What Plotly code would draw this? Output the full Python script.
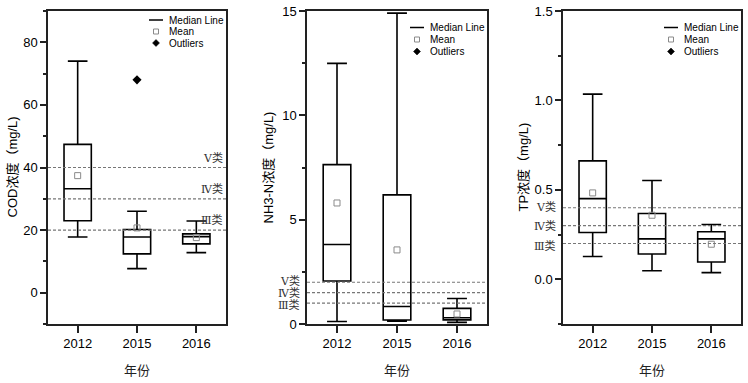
import plotly.graph_objects as go

W, H = 748, 383

years = ["2012", "2015", "2016"]

# COD (mg/L)
cod_low = [17.8, 7.7, 12.8]
cod_q1 = [23.0, 12.4, 15.6]
cod_med = [33.2, 17.8, 17.9]
cod_q3 = [47.4, 20.2, 18.8]
cod_high = [74.0, 26.0, 22.9]
cod_mean = [37.4, 20.7, 17.6]
cod_out_x = ["2015"]
cod_out_y = [68.0]
cod_limits = [40, 30, 20]

# NH3-N (mg/L)
nh_low = [0.12, 0.14, 0.08]
nh_q1 = [2.06, 0.19, 0.2]
nh_med = [3.81, 0.84, 0.3]
nh_q3 = [7.64, 6.19, 0.75]
nh_high = [12.49, 14.9, 1.22]
nh_mean = [5.8, 3.55, 0.48]
nh_limits = [2.0, 1.5, 1.0]

# TP (mg/L)
tp_low = [0.127, 0.048, 0.037]
tp_q1 = [0.262, 0.141, 0.097]
tp_med = [0.451, 0.226, 0.226]
tp_q3 = [0.662, 0.368, 0.266]
tp_high = [1.035, 0.552, 0.306]
tp_mean = [0.483, 0.358, 0.196]
tp_limits = [0.4, 0.3, 0.2]

limit_labels = ["Ⅴ类", "Ⅳ类", "Ⅲ类"]
legend_labels = ["Median Line", "Mean", "Outliers"]
y_titles = ["COD浓度（mg/L)", "NH3-N浓度（mg/L)", "TP浓度（mg/L)"]
x_title = "年份"

SANS = "Liberation Sans, Arial, Noto Sans CJK SC"
SERIF = "DejaVu Serif, Liberation Serif, Noto Sans CJK SC"
AX = "#222222"

def px(x):
    return x / W

def py(y):
    return 1 - y / H

# panel pixel geometry: left, right, top, bottom
panels = [(48, 226, 11, 324), (307, 487, 11, 324), (563, 741, 11, 324)]

fig = go.Figure()

data = [
    (cod_low, cod_q1, cod_med, cod_q3, cod_high, cod_mean),
    (nh_low, nh_q1, nh_med, nh_q3, nh_high, nh_mean),
    (tp_low, tp_q1, tp_med, tp_q3, tp_high, tp_mean),
]
yranges = [[-10, 90], [0, 15], [-0.25, 1.5]]
dticks = [20, 5, 0.5]
minors = [10, 2.5, 0.25]
tfmt = ["d", "d", ".1f"]
limits = [cod_limits, nh_limits, tp_limits]

for i, (lo, q1, md, q3, hi, mn) in enumerate(data):
    xa = "x" if i == 0 else f"x{i+1}"
    ya = "y" if i == 0 else f"y{i+1}"
    fig.add_trace(go.Box(
        x=years, q1=q1, median=md, q3=q3, lowerfence=lo, upperfence=hi,
        width=0.46, whiskerwidth=0.72, fillcolor="rgba(255,255,255,0)",
        line=dict(color="black", width=1.6), boxpoints=False,
        xaxis=xa, yaxis=ya, showlegend=False, hoverinfo="skip"))
    fig.add_trace(go.Scatter(
        x=years, y=mn, mode="markers", xaxis=xa, yaxis=ya, showlegend=False,
        marker=dict(symbol="square-open", size=6, color="#8a8a8a", line=dict(width=1))))
    if i == 0:
        fig.add_trace(go.Scatter(
            x=cod_out_x, y=cod_out_y, mode="markers", xaxis=xa, yaxis=ya, showlegend=False,
            marker=dict(symbol="diamond", size=7, color="black")))

    l, r, t, b = panels[i]
    sfx = "" if i == 0 else str(i + 1)
    fig.layout["xaxis" + sfx] = dict(
        domain=[px(l), px(r)], anchor=ya, type="category", range=[-0.5, 2.5],
        showline=True, mirror=True, linecolor=AX, linewidth=1.5,
        ticks="outside", ticklen=7, tickwidth=1.5, tickcolor=AX,
        tickfont=dict(family=SANS, size=13, color="black"), showgrid=False, zeroline=False)
    fig.layout["yaxis" + sfx] = dict(
        domain=[py(b), py(t)], anchor=xa, range=yranges[i],
        tick0=0, dtick=dticks[i], tickformat=tfmt[i],
        showline=True, mirror=True, linecolor=AX, linewidth=1.5,
        ticks="outside", ticklen=6, tickwidth=1.5, tickcolor=AX,
        minor=dict(ticks="outside", ticklen=3, tickwidth=1.5, tickcolor=AX, dtick=minors[i], tick0=0),
        tickfont=dict(family=SANS, size=13, color="black"), showgrid=False, zeroline=False)

    # limit lines
    for lv in limits[i]:
        fig.add_shape(type="line", xref=f"{xa} domain", yref=ya, x0=0, x1=1, y0=lv, y1=lv,
                      line=dict(color="#777777", width=1.2, dash="3px,2px"))
    # limit labels
    for k, lv in enumerate(limits[i]):
        if i == 0:
            fig.add_annotation(x=px(r - 1), xref="paper", y=lv, yref=ya, yshift=10,
                               text=limit_labels[k], showarrow=False, xanchor="right",
                               yanchor="middle", font=dict(family=SERIF, size=11, color="#333"))
        else:
            shift = [1, 0, -2][k]
            fig.add_annotation(x=px(l - 5), xref="paper", y=lv, yref=ya, yshift=shift,
                               text=limit_labels[k], showarrow=False, xanchor="right",
                               yanchor="middle", font=dict(family=SERIF, size=11, color="#333"))

    # axis titles
    fig.add_annotation(x=px([12, 268, 523][i]), y=py((t + b) / 2), xref="paper", yref="paper",
                       text=y_titles[i], textangle=-90, showarrow=False,
                       xanchor="center", yanchor="middle",
                       font=dict(family=SANS, size=13, color="black"))
    fig.add_annotation(x=px((l + r) / 2), y=py(370), xref="paper", yref="paper",
                       text=x_title, showarrow=False, xanchor="center", yanchor="middle",
                       font=dict(family=SANS, size=13, color="#222"))

    # legend
    ys = [20, 31.5, 43] if i == 0 else [27.5, 39.5, 51.5]
    lx0, lx1 = r - 77, r - 63
    cx = (lx0 + lx1) / 2
    fig.add_shape(type="line", xref="paper", yref="paper", x0=px(lx0), x1=px(lx1),
                  y0=py(ys[0]), y1=py(ys[0]), line=dict(color="black", width=1.5))
    fig.add_shape(type="rect", xref="paper", yref="paper", x0=px(cx - 2.5), x1=px(cx + 2.5),
                  y0=py(ys[1] + 2.5), y1=py(ys[1] - 2.5), line=dict(color="#8a8a8a", width=1))
    d = 3.5
    fig.add_shape(type="path", xref="paper", yref="paper",
                  path=f"M {px(cx)} {py(ys[2]-d)} L {px(cx+d)} {py(ys[2])} L {px(cx)} {py(ys[2]+d)} L {px(cx-d)} {py(ys[2])} Z",
                  fillcolor="black", line=dict(color="black", width=0.5))
    for k, lab in enumerate(legend_labels):
        fig.add_annotation(x=px(r - 59), y=py(ys[k]), xref="paper", yref="paper",
                           text=lab, showarrow=False, xanchor="left", yanchor="middle",
                           font=dict(family=SANS, size=10, color="black"))

fig.update_layout(
    width=W, height=H, margin=dict(l=0, r=0, t=0, b=0, autoexpand=False),
    paper_bgcolor="white", plot_bgcolor="white", showlegend=False)

fig.write_html("out.html", config={"displayModeBar": False},
               post_script="document.body.style.margin='0';document.body.style.overflow='hidden';")
